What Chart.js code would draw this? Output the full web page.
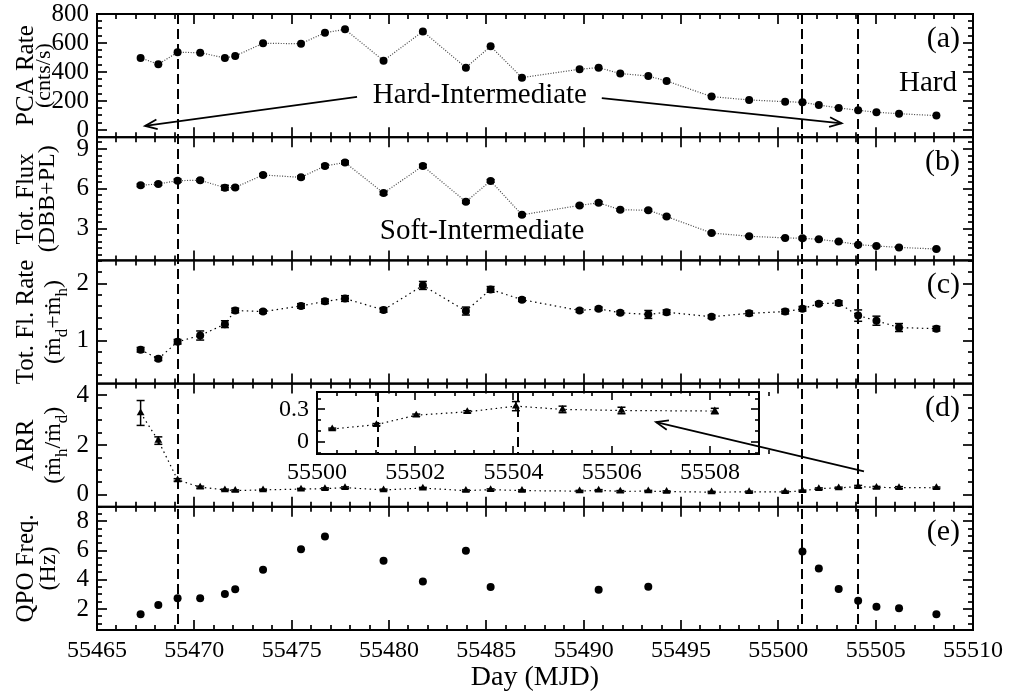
<!DOCTYPE html>
<html><head><meta charset="utf-8">
<script src="https://cdn.jsdelivr.net/npm/chart.js@4.4.1/dist/chart.umd.min.js"></script>
<style>
html,body{margin:0;padding:0;background:#fff;}
#wrap{position:relative;width:1009px;height:694px;background:#fff;}
#wrap canvas{position:absolute;left:0;top:0;}
</style></head><body>
<div id="wrap"><canvas id="main" width="1009" height="694"></canvas><canvas id="inset" width="1009" height="694"></canvas></div>
<script>
// ---------------- data ----------------
const days = [55467.24, 55468.15, 55469.14, 55470.30, 55471.57, 55472.10, 55473.53, 55475.48, 55476.71, 55477.74,
              55479.72, 55481.74, 55483.95, 55485.22, 55486.83, 55489.79, 55490.77, 55491.88, 55493.32, 55494.26,
              55496.57, 55498.50, 55500.35, 55501.24, 55502.08, 55503.10, 55504.10, 55505.04, 55506.20, 55508.12];
const pcaRate = [497, 453, 536, 533, 497, 510, 598, 595, 671, 694,
                 478, 680, 430, 577, 361, 419, 430, 389, 372, 338,
                 230, 207, 195, 191, 172, 152, 136, 122, 112, 99];
const totFlux = [6.27, 6.37, 6.62, 6.65, 6.09, 6.11, 7.05, 6.87, 7.73, 7.99,
                 5.68, 7.73, 5.03, 6.60, 4.04, 4.75, 4.95, 4.42, 4.39, 3.91,
                 2.67, 2.42, 2.30, 2.27, 2.19, 2.02, 1.79, 1.69, 1.58, 1.46];
const totFluxErr = [0.1, 0.1, 0.12, 0.1, 0.18, 0.1, 0.1, 0.1, 0.12, 0.12,
                    0.12, 0.12, 0.1, 0.1, 0.08, 0.08, 0.1, 0.08, 0.08, 0.08,
                    0.06, 0.06, 0.06, 0.1, 0.06, 0.06, 0.06, 0.06, 0.06, 0.06];
const flowRate = [0.84, 0.68, 0.98, 1.09, 1.29, 1.53, 1.51, 1.61, 1.69, 1.74,
                  1.54, 1.97, 1.52, 1.90, 1.72, 1.53, 1.56, 1.49, 1.46, 1.50,
                  1.42, 1.48, 1.51, 1.56, 1.65, 1.66, 1.44, 1.35, 1.23, 1.21];
const flowRateErr = [0.04, 0.03, 0.04, 0.08, 0.06, 0.04, 0.03, 0.04, 0.04, 0.05,
                     0.04, 0.07, 0.07, 0.05, 0.03, 0.03, 0.03, 0.03, 0.07, 0.04,
                     0.03, 0.04, 0.04, 0.04, 0.03, 0.04, 0.10, 0.08, 0.07, 0.04];
const arr = [3.29, 2.18, 0.60, 0.31, 0.20, 0.17, 0.20, 0.23, 0.25, 0.29,
             0.20, 0.27, 0.17, 0.21, 0.17, 0.15, 0.18, 0.14, 0.15, 0.13,
             0.11, 0.12, 0.12, 0.16, 0.25, 0.28, 0.33, 0.30, 0.29, 0.285];
const arrErr = [0.5, 0.15, 0.05, 0.04, 0.03, 0.03, 0.03, 0.03, 0.03, 0.03,
                0.03, 0.03, 0.03, 0.03, 0.03, 0.03, 0.03, 0.03, 0.03, 0.03,
                0.03, 0.03, 0.03, 0.03, 0.03, 0.03, 0.05, 0.04, 0.04, 0.03];
const qpoFreq = [1.64, 2.27, 2.73, 2.73, 3.03, 3.35, 4.68, 6.10, 6.97, null,
                 5.30, 3.88, 5.99, 3.51, null, null, 3.31, null, 3.53, null,
                 null, null, null, 5.94, 4.77, 3.37, 2.57, 2.16, 2.05, 1.64];
// inset (zoom of ARR)
const insetDays = [55500.31, 55501.21, 55502.02, 55503.06, 55504.05, 55505.00, 55506.20, 55508.10];
const insetArr  = [0.12, 0.16, 0.247, 0.278, 0.33, 0.30, 0.29, 0.285];
const insetErr  = [0.008, 0.01, 0.01, 0.01, 0.042, 0.03, 0.03, 0.025];
// state transitions (dashed lines)
const transitions = [55469.14, 55501.24, 55504.10];
// tick labels
const dayTicks = [55465, 55470, 55475, 55480, 55485, 55490, 55495, 55500, 55505, 55510];
const pcaTicks = [0, 200, 400, 600, 800];
const fluxTicks = [3, 6, 9];
const flowTicks = [1, 2];
const arrTicks = [0, 2, 4];
const qpoTicks = [2, 4, 6, 8];
const insetDayTicks = [55500, 55502, 55504, 55506, 55508];
const insetArrTicks = [0, 0.3];
// texts
const xTitle = 'Day (MJD)';
const panelLetters = ['(a)', '(b)', '(c)', '(d)', '(e)'];
const yTitles = [
  [[{t:'PCA Rate'}], [{t:'(cnts/s)'}]],
  [[{t:'Tot. Flux'}], [{t:'(DBB+PL)'}]],
  [[{t:'Tot. Fl. Rate'}], [{t:'(ṁ'}, {t:'d', sub:true}, {t:'+ṁ'}, {t:'h', sub:true}, {t:')'}]],
  [[{t:'ARR'}], [{t:'(ṁ'}, {t:'h', sub:true}, {t:'/ṁ'}, {t:'d', sub:true}, {t:')'}]],
  [[{t:'QPO Freq.'}], [{t:'(Hz)'}]]
];
const notes = [
  {axis:'ya', x:55484.67, y:236, text:'Hard-Intermediate'},
  {axis:'yb', x:55484.78, y:2.80, text:'Soft-Intermediate'},
  {axis:'ya', x:55507.69, y:320, text:'Hard'}
];
const arrows = [
  {axis:'ya', from:[55478.36, 228], to:[55467.47, 28]},
  {axis:'ya', from:[55490.93, 219], to:[55503.25, 46]},
  {axis:'yd', from:[55504.40, 0.94], to:[55493.72, 2.92]}
];

// ---------------- config ----------------
const SERIF = "'Liberation Serif','Times New Roman','DejaVu Serif',serif";
const panels = [
  {id:'ya', min:-50, max:800, ticks:pcaTicks, minor:50, values:pcaRate, err:null, marker:'circle', r:4, line:true, dash:[1,1.6], color:'#444', l2size:22, l2x:50},
  {id:'yb', min:0.6, max:9.9, ticks:fluxTicks, minor:0.5, values:totFlux, err:totFluxErr, marker:'circle', r:4, line:true, dash:[1,1.6], color:'#444', l2size:24, l2x:54},
  {id:'yc', min:0.245, max:2.41, ticks:flowTicks, minor:0.2, values:flowRate, err:flowRateErr, marker:'circle', r:4, line:true, dash:[1.5,3.5], color:'#000', l2size:24, l2x:60},
  {id:'yd', min:-0.48, max:4.47, ticks:arrTicks, minor:0.5, values:arr, err:arrErr, marker:'triangle', r:4.5, line:true, dash:[1.5,3.5], color:'#000', l2size:24, l2x:60},
  {id:'ye', min:0.56, max:9.0, ticks:qpoTicks, minor:0.5, values:qpoFreq, err:null, marker:'circle', r:4, line:false, dash:[], color:'#000', l2size:24, l2x:55}
];

function line(ctx, x0, y0, x1, y1) { ctx.beginPath(); ctx.moveTo(x0, y0); ctx.lineTo(x1, y1); ctx.stroke(); }

function drawFrame(ctx, xs, ys, o) {
  const L = xs.left, R = xs.right, T = ys.top, B = ys.bottom;
  ctx.save();
  ctx.strokeStyle = '#000';
  ctx.setLineDash([]);
  ctx.lineWidth = o.fw;
  ctx.strokeRect(L, T, R - L, B - T);
  ctx.lineWidth = o.tw;
  const nx = Math.round((xs.max - xs.min) / o.xMinor);
  for (let k = 0; k <= nx; k++) {
    const v = xs.min + k * o.xMinor;
    const q = v / o.xMajor;
    const major = Math.abs(q - Math.round(q)) < 1e-6;
    const len = major ? o.maj : o.min;
    const px = Math.round(xs.getPixelForValue(v));
    line(ctx, px, B, px, B - len);
    line(ctx, px, T, px, T + len);
  }
  const start = Math.ceil((ys.min - 1e-9) / o.yMinor);
  const end = Math.floor((ys.max + 1e-9) / o.yMinor);
  for (let k = start; k <= end; k++) {
    const v = k * o.yMinor;
    const major = o.yMajor.some(m => Math.abs(m - v) < 1e-6);
    const len = major ? o.maj : o.min;
    const py = Math.round(ys.getPixelForValue(v));
    line(ctx, L, py, L + len, py);
    line(ctx, R, py, R - len, py);
  }
  ctx.restore();
}

function drawErrors(chart) {
  const ctx = chart.ctx;
  ctx.save();
  ctx.strokeStyle = '#000';
  ctx.lineWidth = 1.5;
  ctx.setLineDash([]);
  chart.data.datasets.forEach((ds, di) => {
    const meta = chart.getDatasetMeta(di);
    const ys = chart.scales[ds.yAxisID];
    meta.data.forEach((el, i) => {
      const p = ds.data[i];
      if (!p || !p.e) return;
      const y0 = ys.getPixelForValue(p.y - p.e), y1 = ys.getPixelForValue(p.y + p.e);
      const x = el.x;
      line(ctx, x, y0, x, y1);
      line(ctx, x - 4, y0, x + 4, y0);
      line(ctx, x - 4, y1, x + 4, y1);
    });
  });
  ctx.restore();
}

function arrow(ctx, x0, y0, x1, y1) {
  line(ctx, x0, y0, x1, y1);
  const a = Math.atan2(y1 - y0, x1 - x0);
  const h = 13, w = 0.38;
  ctx.beginPath();
  ctx.moveTo(x1 - h * Math.cos(a - w), y1 - h * Math.sin(a - w));
  ctx.lineTo(x1, y1);
  ctx.lineTo(x1 - h * Math.cos(a + w), y1 - h * Math.sin(a + w));
  ctx.stroke();
}

function drawRuns(ctx, runs, cx, cy, size) {
  let w = 0;
  runs.forEach(r => { ctx.font = (r.sub ? 17 : size) + 'px ' + SERIF; r.w = ctx.measureText(r.t).width; w += r.w; });
  ctx.save();
  ctx.translate(cx, cy);
  ctx.rotate(-Math.PI / 2);
  ctx.textAlign = 'left';
  ctx.textBaseline = 'alphabetic';
  let x = -w / 2;
  runs.forEach(r => { ctx.font = (r.sub ? 17 : size) + 'px ' + SERIF; ctx.fillText(r.t, x, r.sub ? 7 : 0); x += r.w; });
  ctx.restore();
}

const mainDecor = {
  id: 'mainDecor',
  beforeDraw(chart) {
    const ctx = chart.ctx;
    ctx.save(); ctx.fillStyle = '#fff'; ctx.fillRect(0, 0, chart.width, chart.height); ctx.restore();
  },
  beforeDatasetsDraw(chart) { drawErrors(chart); },
  afterDatasetsDraw(chart) {
    const ctx = chart.ctx;
    const xs = chart.scales.x;
    panels.forEach(p => {
      drawFrame(ctx, xs, chart.scales[p.id], {fw:2, tw:1.7, maj:10, min:5, xMinor:1, xMajor:5, yMinor:p.minor, yMajor:p.ticks});
    });
    const top = chart.scales.ya.top, bot = chart.scales.ye.bottom;
    ctx.save();
    ctx.strokeStyle = '#000'; ctx.lineWidth = 2; ctx.setLineDash([10, 5]);
    transitions.forEach(t => { const px = Math.round(xs.getPixelForValue(t)); line(ctx, px, top, px, bot); });
    ctx.restore();
    ctx.save();
    ctx.strokeStyle = '#000'; ctx.lineWidth = 1.8; ctx.setLineDash([]);
    arrows.forEach(a => {
      const ys = chart.scales[a.axis];
      arrow(ctx, xs.getPixelForValue(a.from[0]), ys.getPixelForValue(a.from[1]), xs.getPixelForValue(a.to[0]), ys.getPixelForValue(a.to[1]));
    });
    ctx.restore();
    ctx.save();
    ctx.fillStyle = '#000'; ctx.textAlign = 'center'; ctx.textBaseline = 'middle';
    ctx.font = '29px ' + SERIF;
    notes.forEach(n => {
      const ys = chart.scales[n.axis];
      ctx.fillText(n.text, xs.getPixelForValue(n.x), ys.getPixelForValue(n.y));
    });
    ctx.textAlign = 'right'; ctx.font = '30px ' + SERIF;
    panels.forEach((p, i) => { const ys = chart.scales[p.id]; ctx.fillText(panelLetters[i], xs.right - 13, ys.top + 25); });
    ctx.restore();
    ctx.save(); ctx.fillStyle = '#000';
    panels.forEach((p, i) => {
      const ys = chart.scales[p.id];
      const cy = (ys.top + ys.bottom) / 2;
      drawRuns(ctx, yTitles[i][0], 33, cy, 25);
      drawRuns(ctx, yTitles[i][1], p.l2x, cy, p.l2size);
    });
    ctx.restore();
  }
};

const scales = {
  x: {
    type: 'linear', position: 'bottom', min: 55465, max: 55510,
    grid: {display: false, drawTicks: false}, border: {display: false},
    ticks: {font: {family: SERIF, size: 24}, color: '#000', padding: 6, maxRotation: 0, autoSkip: false, callback: v => String(v)},
    afterBuildTicks: s => { s.ticks = dayTicks.map(v => ({value: v})); },
    title: {display: true, text: xTitle, font: {family: SERIF, size: 28}, color: '#000', padding: {top: 0, bottom: 0}},
    afterFit: s => { s.height = 64; s.paddingLeft = 0; s.paddingRight = 0; }
  }
};
panels.forEach((p, i) => {
  scales[p.id] = {
    type: 'linear', position: 'left', stack: 'panels', stackWeight: 1, weight: 5 - i,
    min: p.min, max: p.max,
    grid: {display: false, drawTicks: false}, border: {display: false},
    ticks: {font: {family: SERIF, size: 25}, color: '#000', padding: 8, autoSkip: false, callback: v => String(v)},
    afterBuildTicks: s => { s.ticks = p.ticks.map(v => ({value: v})); },
    afterFit: s => { s.width = 97; s.paddingTop = 0; s.paddingBottom = 0; }
  };
});

const datasets = panels.map(p => ({
  type: 'line', xAxisID: 'x', yAxisID: p.id,
  data: days.map((d, i) => ({x: d, y: p.values[i], e: p.err ? p.err[i] : 0})).filter(pt => pt.y !== null),
  showLine: p.line, borderColor: p.color, borderWidth: 1.2, borderDash: p.dash,
  pointStyle: p.marker, pointRadius: p.r, pointBackgroundColor: '#000', pointBorderColor: '#000', pointBorderWidth: 0,
  fill: false, tension: 0, clip: false
}));

new Chart(document.getElementById('main'), {
  type: 'line',
  data: {datasets},
  options: {
    responsive: false, animation: false, devicePixelRatio: 1, events: [],
    layout: {padding: {top: 14, right: 36, left: 0, bottom: 0}},
    scales,
    plugins: {legend: {display: false}, tooltip: {enabled: false}}
  },
  plugins: [mainDecor]
});

// ---------------- inset ----------------
const insetDecor = {
  id: 'insetDecor',
  beforeDatasetsDraw(chart) { drawErrors(chart); },
  afterDatasetsDraw(chart) {
    const ctx = chart.ctx, xs = chart.scales.x, ys = chart.scales.y;
    drawFrame(ctx, xs, ys, {fw:2, tw:1.6, maj:8, min:4, xMinor:0.4, xMajor:2, yMinor:0.1, yMajor:insetArrTicks});
    ctx.save();
    ctx.strokeStyle = '#000'; ctx.lineWidth = 2; ctx.setLineDash([10, 5]);
    transitions.filter(t => t >= xs.min && t <= xs.max).forEach(t => {
      const px = Math.round(xs.getPixelForValue(t)); line(ctx, px, ys.top, px, ys.bottom);
    });
    ctx.restore();
  }
};
new Chart(document.getElementById('inset'), {
  type: 'line',
  data: {datasets: [{
    xAxisID: 'x', yAxisID: 'y',
    data: insetDays.map((d, i) => ({x: d, y: insetArr[i], e: insetErr[i]})),
    showLine: true, borderColor: '#000', borderWidth: 1.2, borderDash: [1.5, 3.5],
    pointStyle: 'triangle', pointRadius: 4.5, pointBackgroundColor: '#000', pointBorderColor: '#000', pointBorderWidth: 0,
    fill: false, tension: 0, clip: false
  }]},
  options: {
    responsive: false, animation: false, devicePixelRatio: 1, events: [],
    layout: {padding: {left: 277, right: 250, top: 392, bottom: 210}},
    scales: {
      x: {type: 'linear', position: 'bottom', min: 55500, max: 55509,
          grid: {display: false, drawTicks: false}, border: {display: false},
          ticks: {font: {family: SERIF, size: 24}, color: '#000', padding: 4, maxRotation: 0, autoSkip: false, callback: v => String(v)},
          afterBuildTicks: s => { s.ticks = insetDayTicks.map(v => ({value: v})); },
          afterFit: s => { s.height = 30; s.paddingLeft = 0; s.paddingRight = 0; }},
      y: {type: 'linear', position: 'left', min: -0.11, max: 0.46,
          grid: {display: false, drawTicks: false}, border: {display: false},
          ticks: {font: {family: SERIF, size: 24}, color: '#000', padding: 8, autoSkip: false, callback: v => String(v)},
          afterBuildTicks: s => { s.ticks = insetArrTicks.map(v => ({value: v})); },
          afterFit: s => { s.width = 40; s.paddingTop = 0; s.paddingBottom = 0; }}
    },
    plugins: {legend: {display: false}, tooltip: {enabled: false}}
  },
  plugins: [insetDecor]
});
</script>
</body></html>
